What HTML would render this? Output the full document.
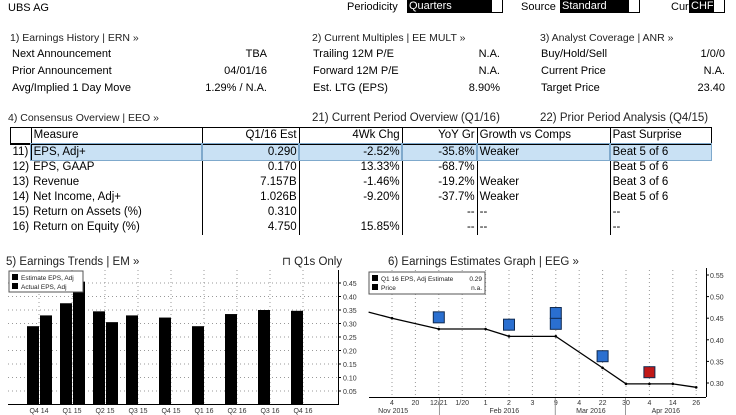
<!DOCTYPE html>
<html><head><meta charset="utf-8">
<style>
body{margin:0;width:736px;height:415px;background:#fff;font-family:"Liberation Sans",sans-serif;font-size:11px;color:#000;position:relative;overflow:hidden}
.t{position:absolute;white-space:nowrap;line-height:13px}
.r{text-align:right}
.h{font-size:10.5px;color:#222}
.box{position:absolute;background:#000;color:#fff;height:13px;top:0;font-size:11px;line-height:13px;padding-left:2px}
.wb{position:absolute;top:0;height:12px;width:10px;border:1px solid #000;border-top:none;background:#fff}
table{position:absolute;left:10px;top:127px;border-collapse:collapse;font-size:11.5px}
td{height:15px;padding:0 2px;border-left:1.5px solid #000;line-height:15px;white-space:nowrap}
tr.hd td{border-top:1.5px solid #000;border-bottom:2px solid #000}
td.n{text-align:right}
tr.sel td.s{background:#c9e1f4;outline:1px solid #7fa9cc}
</style></head><body>
<div class="t" style="left:8px;top:2px">UBS AG</div>
<div class="t" style="left:347px;top:1px">Periodicity</div>
<div class="box" style="left:407px;width:83px">Quarters</div><div class="wb" style="left:491px"></div>
<div class="t" style="left:521px;top:1px">Source</div>
<div class="box" style="left:560px;width:66px">Standard</div><div class="wb" style="left:628px"></div>
<div class="t" style="left:671px;top:1px">Cur</div>
<div class="box" style="left:689px;width:22px">CHF</div><div class="wb" style="left:713px"></div>

<div class="t h" style="left:10px;top:32px">1) Earnings History | ERN »</div>
<div class="t" style="left:12px;top:48px">Next Announcement</div>
<div class="t r" style="right:469px;top:48px">TBA</div>
<div class="t" style="left:12px;top:65px">Prior Announcement</div>
<div class="t r" style="right:469px;top:65px">04/01/16</div>
<div class="t" style="left:12px;top:82px">Avg/Implied 1 Day Move</div>
<div class="t r" style="right:469px;top:82px">1.29% / N.A.</div>

<div class="t h" style="left:312px;top:32px">2) Current Multiples | EE MULT »</div>
<div class="t" style="left:313px;top:48px">Trailing 12M P/E</div>
<div class="t r" style="right:236px;top:48px">N.A.</div>
<div class="t" style="left:313px;top:65px">Forward 12M P/E</div>
<div class="t r" style="right:236px;top:65px">N.A.</div>
<div class="t" style="left:313px;top:82px">Est. LTG (EPS)</div>
<div class="t r" style="right:236px;top:82px">8.90%</div>

<div class="t h" style="left:540px;top:32px">3) Analyst Coverage | ANR »</div>
<div class="t" style="left:541px;top:48px">Buy/Hold/Sell</div>
<div class="t r" style="right:11px;top:48px">1/0/0</div>
<div class="t" style="left:541px;top:65px">Current Price</div>
<div class="t r" style="right:11px;top:65px">N.A.</div>
<div class="t" style="left:541px;top:82px">Target Price</div>
<div class="t r" style="right:11px;top:82px">23.40</div>

<div class="t h" style="left:8px;top:112px">4) Consensus Overview | EEO »</div>
<div class="t h" style="left:312px;top:112px;font-size:11.5px">21) Current Period Overview (Q1/16)</div>
<div class="t h" style="left:540px;top:112px;font-size:11.5px">22) Prior Period Analysis (Q4/15)</div>

<table>
<tr class="hd"><td style="width:14px"></td><td style="width:166px">Measure</td><td class="n" style="width:92px">Q1/16 Est</td><td class="n" style="width:98px">4Wk Chg</td><td class="n" style="width:70px">YoY Gr</td><td style="width:128px">Growth vs Comps</td><td style="width:96px;border-right:1.5px solid #000">Past Surprise</td></tr>
<tr class="sel"><td style="border-left:none">11)</td><td class="s">EPS, Adj+</td><td class="n s">0.290</td><td class="n s">-2.52%</td><td class="n s">-35.8%</td><td class="s">Weaker</td><td class="s">Beat 5 of 6</td></tr>
<tr><td style="border-left:none">12)</td><td style="border-left:none">EPS, GAAP</td><td class="n">0.170</td><td class="n">13.33%</td><td class="n">-68.7%</td><td></td><td>Beat 5 of 6</td></tr>
<tr><td style="border-left:none">13)</td><td style="border-left:none">Revenue</td><td class="n">7.157B</td><td class="n">-1.46%</td><td class="n">-19.2%</td><td>Weaker</td><td>Beat 3 of 6</td></tr>
<tr><td style="border-left:none">14)</td><td style="border-left:none">Net Income, Adj+</td><td class="n">1.026B</td><td class="n">-9.20%</td><td class="n">-37.7%</td><td>Weaker</td><td>Beat 5 of 6</td></tr>
<tr><td style="border-left:none">15)</td><td style="border-left:none">Return on Assets (%)</td><td class="n">0.310</td><td class="n"></td><td class="n">--</td><td>--</td><td>--</td></tr>
<tr><td style="border-left:none">16)</td><td style="border-left:none">Return on Equity (%)</td><td class="n">4.750</td><td class="n">15.85%</td><td class="n">--</td><td>--</td><td>--</td></tr>
</table>

<div class="t h" style="left:6px;top:256px;font-size:11.5px">5) Earnings Trends | EM »</div>
<div class="t h" style="left:282px;top:256px;font-size:11.5px">⊓ Q1s Only</div>
<div class="t h" style="left:388px;top:256px;font-size:11.5px">6) Earnings Estimates Graph | EEG »</div>

<svg id="c1" style="position:absolute;left:0;top:0" width="736" height="415"></svg>
<script>
const qCats=["Q4 14","Q1 15","Q2 15","Q3 15","Q4 15","Q1 16","Q2 16","Q3 16","Q4 16"];
const estVals=[0.29,0.375,0.345,0.33,0.322,0.29,0.335,0.35,0.347];
const actVals=[0.33,0.455,0.305,null,null,null,null,null,null];
const yTicks1=[0.05,0.10,0.15,0.20,0.25,0.30,0.35,0.40,0.45];
const dLabels=["4","20","12/21","1/20","1","2","3","9","4","22","30","4","14","26"];
const months=["Nov 2015","Feb 2016","Mar 2016","Apr 2016"];
const monthPos=[0.05,4.8,8.5,11.7];
const lineIdx=[-1,0,2,4,5,7,9,10,11,12,13];
const lineVals=[0.464,0.45,0.425,0.425,0.408,0.408,0.335,0.298,0.298,0.298,0.29];
const markIdx=[2,5,7,7,9,11];
const markVals=[0.452,0.435,0.462,0.437,0.362,0.325];
const markRev=["up","up","up","up","up","down"];
const yTicks2=[0.30,0.35,0.40,0.45,0.50,0.55];

const NS="http://www.w3.org/2000/svg",svg=document.getElementById('c1');
function mk(t,a,p){const e=document.createElementNS(NS,t);for(const k in a)e.setAttribute(k,a[k]);(p||svg).appendChild(e);return e;}
// chart 1
const y1=v=>404.5-v*270, xc=i=>39+33*i;
const g1=mk('g',{});


yTicks1.forEach(v=>{mk('line',{x1:8,x2:338,y1:y1(v),y2:y1(v),stroke:'#999','stroke-dasharray':'1,3'},g1);
 const t=mk('text',{x:343,y:y1(v)+3,'font-size':7,fill:'#333'},g1);t.textContent=v.toFixed(2);
 
 mk('line',{x1:338,x2:341,y1:y1(v),y2:y1(v),stroke:'#000'},g1);});
qCats.forEach((c,i)=>{mk('line',{x1:xc(i),x2:xc(i),y1:270,y2:404,stroke:'#999','stroke-dasharray':'1,3'},g1);
 const t=mk('text',{x:xc(i),y:413,'font-size':7,'text-anchor':'middle',fill:'#333'},g1);t.textContent=c;
 
 if(estVals[i]!=null){const b=mk('rect',{x:xc(i)-12,y:y1(estVals[i]),width:12,height:404.5-y1(estVals[i]),fill:'#000'},g1);
  }
 if(actVals[i]!=null){const b=mk('rect',{x:xc(i)+1,y:y1(actVals[i]),width:12,height:404.5-y1(actVals[i]),fill:'#000'},g1);
  }});
mk('line',{x1:338.5,x2:338.5,y1:270,y2:405,stroke:'#000'},g1);
mk('line',{x1:8,x2:338,y1:404.5,y2:404.5,stroke:'#000'},g1);
const lg=mk('g',{},g1);
mk('rect',{x:9,y:271,width:74,height:21,fill:'#fff',stroke:'#555'},lg);
[['Estimate EPS, Adj',280],['Actual EPS, Adj',289]].forEach(([s,y])=>{mk('rect',{x:12,y:y-6,width:6,height:6,fill:'#000'},lg);
 const t=mk('text',{x:21,y:y,'font-size':6.5,fill:'#222'},lg);t.textContent=s;
 });
// chart 2
const y2=v=>275+(0.55-v)*432, x2=i=>392+23.4*i;
const g2=mk('g',{});


dLabels.forEach((d,i)=>{mk('line',{x1:x2(i),x2:x2(i),y1:270,y2:397,stroke:'#999','stroke-dasharray':'1,3'},g2);
 const t=mk('text',{x:x2(i),y:405,'font-size':7,'text-anchor':'middle',fill:'#333'},g2);t.textContent=d;
 });
months.forEach((m,i)=>{const t=mk('text',{x:x2(monthPos[i]),y:413,'font-size':7,'text-anchor':'middle',fill:'#333'},g2);t.textContent=m;
 });
[2.05,7,10].forEach(i=>mk('line',{x1:x2(i)-0.5,x2:x2(i)-0.5,y1:398,y2:415,stroke:'#999'},g2));
yTicks2.forEach(v=>{const t=mk('text',{x:710,y:y2(v)+3,'font-size':7,fill:'#333'},g2);t.textContent=v.toFixed(2);
 
 mk('line',{x1:706,x2:709,y1:y2(v),y2:y2(v),stroke:'#000'},g2);});
mk('line',{x1:706.5,x2:706.5,y1:268,y2:397,stroke:'#000'},g2);
mk('line',{x1:369,x2:706,y1:397.5,y2:397.5,stroke:'#000'},g2);
const pl=mk('polyline',{points:lineIdx.map((i,k)=>x2(i)+','+y2(lineVals[k])).join(' '),fill:'none',stroke:'#000','stroke-width':1.3},g2);

lineIdx.forEach((i,k)=>{if(k>0)mk('circle',{cx:x2(i),cy:y2(lineVals[k]),r:1.3,fill:'#000'},g2);});
markIdx.forEach((i,k)=>{const c=markRev[k]=='up'?'#2a6fd0':'#c01818';
 const r=mk('rect',{x:x2(i)-5.5,y:y2(markVals[k])-5.5,width:11,height:11,fill:c,stroke:'#102a50','stroke-width':1},g2);
 });
const l2=mk('g',{},g2);
mk('rect',{x:369,y:272,width:116,height:22,fill:'#fff',stroke:'#555'},l2);
[['Q1 16 EPS, Adj Estimate','0.29',281],['Price','n.a.',290]].forEach(([s,v,y])=>{mk('rect',{x:372,y:y-6,width:6,height:6,fill:'#000'},l2);
 const t=mk('text',{x:381,y:y,'font-size':6.5,fill:'#222'},l2);t.textContent=s;
 
 const u=mk('text',{x:482,y:y,'font-size':6.5,fill:'#222','text-anchor':'end'},l2);u.textContent=v;
 });
</script>
</body></html>
